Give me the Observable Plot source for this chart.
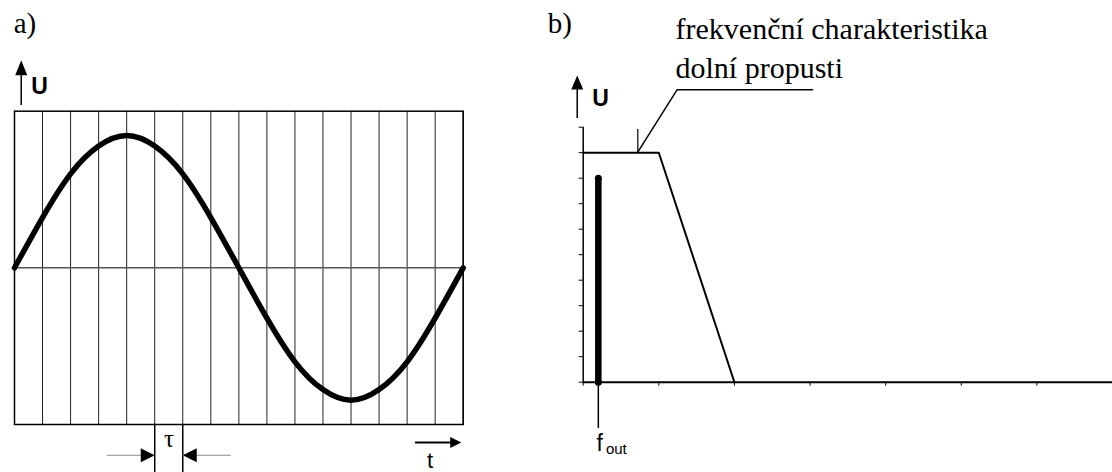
<!DOCTYPE html>
<html>
<head>
<meta charset="utf-8">
<script src="https://cdn.jsdelivr.net/npm/d3@7"></script>
<script src="https://cdn.jsdelivr.net/npm/@observablehq/plot@0.6"></script>
<style>
  html, body { margin: 0; padding: 0; background: #fff; }
  #fig { position: relative; width: 1112px; height: 472px; overflow: hidden; background: #fff; }
  #fig > svg { position: absolute; top: 0; }
</style>
</head>
<body>
<div id="fig"></div>
<script>
// a) one period of the input signal, one value per sampling interval τ
const sampleIndex = d3.range(0, 17);
const sineValues = [0, 0.38, 0.71, 0.92, 1, 0.92, 0.71, 0.38, 0, -0.38, -0.71, -0.92, -1, -0.92, -0.71, -0.38, 0];
const sampleLines = d3.range(0, 17);

// b) low-pass filter characteristic and the output component
const filterFreq = [0, 1, 2];
const filterGain = [9, 9, 0];
const outFreq = [0.2];
const outAmp = [8];
const gainTicks = d3.range(0, 11);
const freqTicks = d3.range(0, 7);

const SERIF = "'Liberation Serif', 'Times New Roman', serif";
const SANS = "'Liberation Sans', Arial, sans-serif";

// filled arrowhead, tip at the anchor point, pointing up before rotation
function arrowHead(w, h) {
  return {
    draw(ctx) {
      ctx.moveTo(0, 0);
      ctx.lineTo(-w / 2, h);
      ctx.lineTo(w / 2, h);
      ctx.closePath();
    }
  };
}

function label(text, x, y, opts = {}) {
  return Plot.text([{x, y, text}], {
    x: "x", y: "y", text: "text",
    textAnchor: "start", lineAnchor: "bottom",
    fill: "black", ...opts
  });
}

const sine = sampleIndex.map((k, i) => ({k, u: sineValues[i]}));

const panelA = Plot.plot({
  width: 540,
  height: 472,
  marginLeft: 14,
  marginRight: 77.3,
  marginTop: 110.7,
  marginBottom: 48,
  x: {domain: [0, 16], axis: null},
  y: {domain: [-1.1836, 1.1836], axis: null},
  style: {background: "white", overflow: "visible"},
  marks: [
    Plot.ruleX(sampleLines, {stroke: "#222", strokeWidth: 1}),
    Plot.ruleY([0], {stroke: "#555", strokeWidth: 1.5}),
    Plot.frame({stroke: "black", strokeWidth: 1.5}),
    Plot.line(sine, {x: "k", y: "u", curve: "natural", stroke: "black", strokeWidth: 5.5}),
    // U axis arrow
    Plot.ruleX([0.24], {y1: 1.227, y2: 1.50, stroke: "black", strokeWidth: 1.5}),
    Plot.dot([0.24], {x: d => d, y: () => 1.568, symbol: arrowHead(12, 15), fill: "black", stroke: null, r: 1}),
    label("U", 0.6, 1.31, {fontFamily: SANS, fontWeight: "bold", fontSize: 23}),
    label("a)", -0.03, 1.778, {fontFamily: SERIF, fontSize: 29}),
    // sampling interval τ
    Plot.ruleX([5, 6], {y1: -1.1836, y2: -1.56, stroke: "black", strokeWidth: 1.5}),
    Plot.ruleY([-1.416], {x1: 3.31, x2: 5, stroke: "#888", strokeWidth: 1.2}),
    Plot.ruleY([-1.416], {x1: 6, x2: 7.73, stroke: "#888", strokeWidth: 1.2}),
    Plot.dot([5], {x: d => d, y: () => -1.416, symbol: arrowHead(14, 14), rotate: 90, fill: "black", stroke: null, r: 1}),
    Plot.dot([6], {x: d => d, y: () => -1.416, symbol: arrowHead(14, 14), rotate: -90, fill: "black", stroke: null, r: 1}),
    label("τ", 5.51, -1.357, {fontFamily: SERIF, fontSize: 25, textAnchor: "middle"}),
    // time axis arrow
    Plot.ruleY([-1.32], {x1: 14.3, x2: 15.6, stroke: "black", strokeWidth: 2}),
    Plot.dot([15.93], {x: d => d, y: () => -1.32, symbol: arrowHead(11, 11), rotate: 90, fill: "black", stroke: null, r: 1}),
    label("t", 14.82, -1.515, {fontFamily: SANS, fontSize: 22, textAnchor: "middle"})
  ]
});

const filter = filterFreq.map((f, i) => ({f, g: filterGain[i]}));
const outLine = outFreq.map((f, i) => ({f, a: outAmp[i]}));

const panelB = Plot.plot({
  width: 572,
  height: 472,
  marginLeft: 42.7,
  marginRight: 0,
  marginTop: 126.7,
  marginBottom: 90.3,
  x: {domain: [0, 7], axis: null},
  y: {domain: [0, 10], axis: null},
  style: {background: "white", overflow: "visible"},
  marks: [
    Plot.axisY(gainTicks, {anchor: "left", tickSize: 4, tickFormat: () => "", label: null, strokeWidth: 1}),
    Plot.axisX(freqTicks, {anchor: "bottom", tickSize: 4, tickFormat: () => "", label: null, strokeWidth: 1}),
    Plot.ruleX([0], {stroke: "black", strokeWidth: 1.5}),
    Plot.ruleY([0], {stroke: "black", strokeWidth: 2}),
    Plot.line(filter, {x: "f", y: "g", stroke: "black", strokeWidth: 2}),
    // output component
    Plot.ruleX(outLine, {x: "f", y1: -1.82, y2: 0, stroke: "black", strokeWidth: 1.5}),
    Plot.ruleX(outLine, {x: "f", y1: 0, y2: "a", stroke: "black", strokeWidth: 6.5}),
    Plot.dot(outLine, {x: "f", y: "a", r: 3.5, fill: "black", stroke: null}),
    Plot.dot(outLine, {x: "f", y: () => 0, r: 3.5, fill: "black", stroke: null}),
    label("f", 0.176, -2.68, {fontFamily: SANS, fontSize: 23}),
    label("out", 0.30, -2.81, {fontFamily: SANS, fontSize: 15}),
    // U axis arrow
    Plot.ruleX([-0.079], {y1: 10.34, y2: 11.5, stroke: "black", strokeWidth: 1.5}),
    Plot.dot([-0.079], {x: d => d, y: () => 12.03, symbol: arrowHead(12, 14), fill: "black", stroke: null, r: 1}),
    label("U", 0.119, 10.85, {fontFamily: SANS, fontWeight: "bold", fontSize: 23}),
    label("b)", -0.47, 13.71, {fontFamily: SERIF, fontSize: 29}),
    // pointer to the filter characteristic
    Plot.line([{x: 3.033, y: 11.47}, {x: 1.243, y: 11.47}, {x: 0.722, y: 9.02}], {x: "x", y: "y", stroke: "black", strokeWidth: 1.5}),
    Plot.ruleX([0.722], {y1: 9.02, y2: 9.91, stroke: "black", strokeWidth: 1.2}),
    label("frekvenční charakteristika", 1.221, 13.47, {fontFamily: SERIF, fontSize: 30}),
    label("dolní propusti", 1.221, 11.92, {fontFamily: SERIF, fontSize: 30})
  ]
});

panelA.style.left = "0px";
panelB.style.left = "540px";
const fig = document.getElementById("fig");
fig.appendChild(panelA);
fig.appendChild(panelB);
</script>
</body>
</html>
